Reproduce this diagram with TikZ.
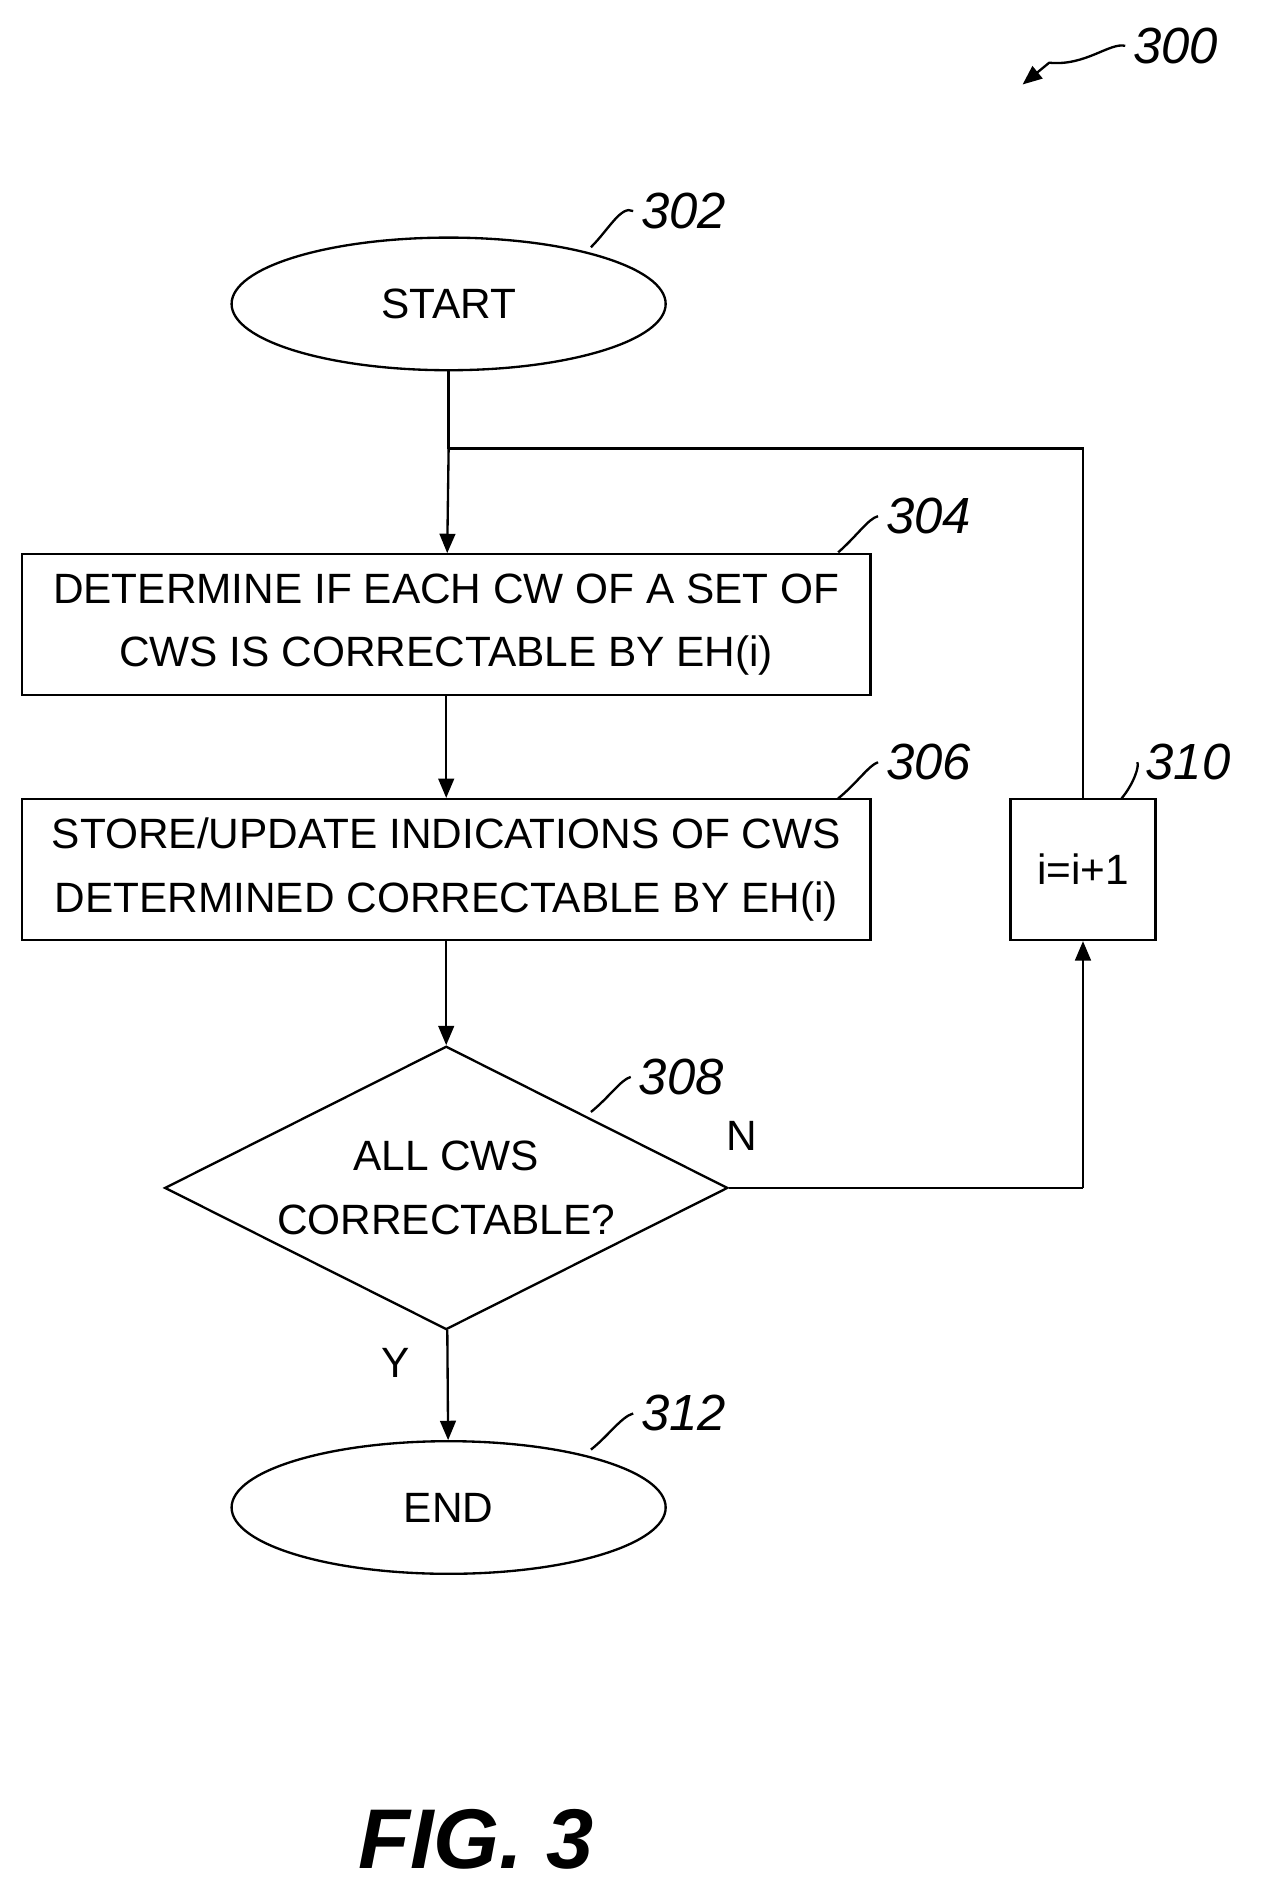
\documentclass[tikz,border=0pt]{standalone}
\usepackage{fontspec}
\setmainfont{Liberation Sans}
\usetikzlibrary{arrows,shapes.geometric}

\begin{document}
\begin{tikzpicture}[x=0.02cm,y=-0.02cm,>=triangle 45,line width=1.1pt,
    every node/.style={font=\fontsize{20}{30}\selectfont},
    block/.style={draw,rectangle,minimum height=2.34cm,inner sep=2pt,align=center},
    term/.style={draw,ellipse,minimum width=7.2cm,minimum height=2.2cm},
    decision/.style={draw,diamond,aspect=2,minimum width=9.34cm,minimum height=4.7cm,align=center,inner sep=0pt},
    tag/.style={font=\fontsize{24}{30}\selectfont\itshape}]
    \useasboundingbox (0,0) rectangle (1050,1568);
    \node[term] (302) at (372,252) {START};
    \node[block,minimum width=14.08cm] (304) at (370,518) {DETERMINE IF EACH CW OF A SET OF\\CWS IS CORRECTABLE BY EH(i)};
    \node[block,minimum width=14.08cm] (306) at (370,721) {STORE/UPDATE INDICATIONS OF CWS\\DETERMINED CORRECTABLE BY EH(i)};
    \node[decision] (308) at (370,985) {ALL CWS\\CORRECTABLE?};
    \node[block,minimum width=2.4cm] (310) at (898,721) {i=i+1};
    \node[term] (312) at (372,1250) {END};
    \coordinate (join) at (372,372);
    \coordinate (loop) at (898,372);
    \coordinate (turn) at (898,985);
    \draw (302) -- (join);
    \draw[->] (join) -- (304);
    \draw[->] (304) -- (306);
    \draw[->] (306) -- (308);
    \draw (310) -- (loop) -- (join);
    \draw (308.east) -- (turn);
    \draw[->] (turn) -- (310);
    \draw[->] (308) -- (312);
    \node at (615,942) {N};
    \node at (328,1130) {Y};
    % reference labels
    \node[tag] (l302) at (567,175) {302};
    \draw (490,205) .. controls (505,190) and (515,170) .. (l302.west);
    \node[tag] (l304) at (770,428) {304};
    \draw (695,458) .. controls (710,445) and (720,430) .. (l304.west);
    \node[tag] (l306) at (770,632) {306};
    \draw (695,662) .. controls (710,650) and (720,635) .. (l306.west);
    \node[tag] (l308) at (565,893) {308};
    \draw (490,922) .. controls (505,910) and (515,895) .. (l308.west);
    \node[tag] (l310) at (985,632) {310};
    \draw (930,662) .. controls (940,650) and (945,635) .. (l310.west);
    \node[tag] (l312) at (567,1172) {312};
    \draw (490,1202) .. controls (505,1190) and (515,1175) .. (l312.west);
    \node[tag] (l300) at (975,38) {300};
    \coordinate (tip300) at (848,70);
    \draw[->] (l300.west) .. controls (920,35) and (900,55) .. (870,52) -- (tip300);
    \node[font=\fontsize{40}{40}\selectfont\bfseries\itshape] (fig) at (395,1525) {FIG. 3};
\end{tikzpicture}
\end{document}
